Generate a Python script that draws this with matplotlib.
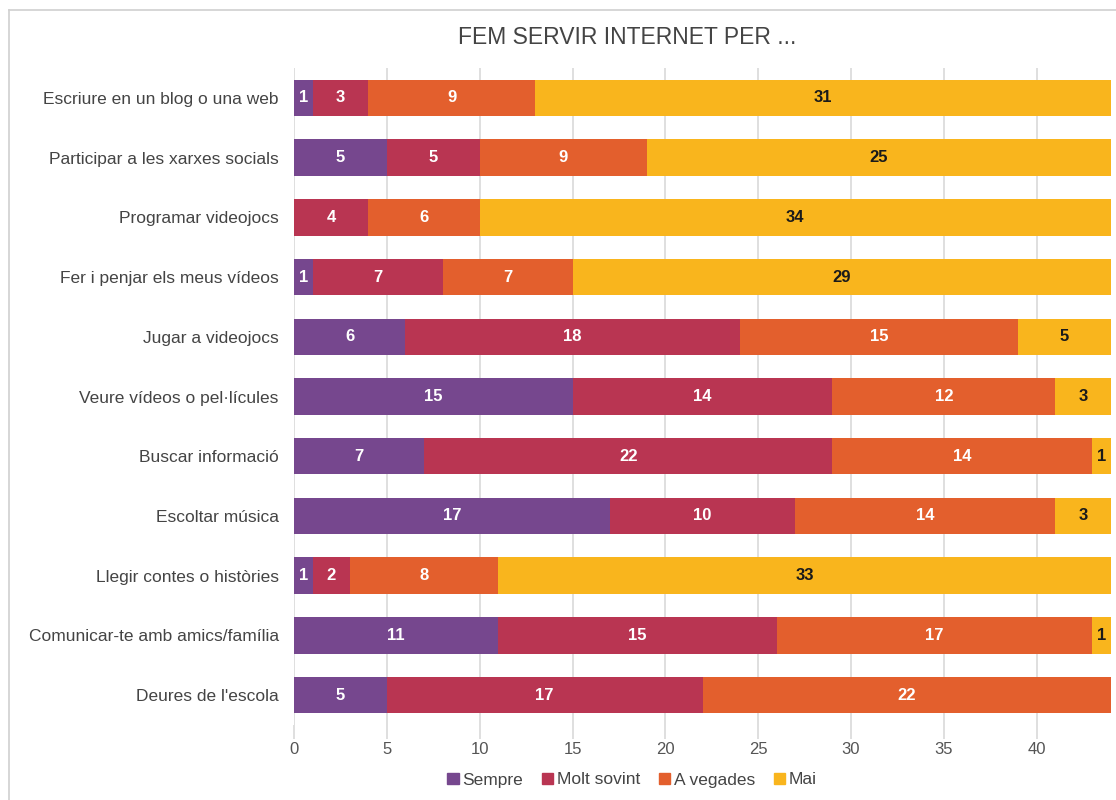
import matplotlib
matplotlib.use("Agg")
import matplotlib.pyplot as plt
from matplotlib.lines import Line2D
import numpy as np

plt.rcParams['font.family'] = ['Liberation Sans', 'DejaVu Sans']

categories = [
    "Escriure en un blog o una web",
    "Participar a les xarxes socials",
    "Programar videojocs",
    "Fer i penjar els meus vídeos",
    "Jugar a videojocs",
    "Veure vídeos o pel·lícules",
    "Buscar informació",
    "Escoltar música",
    "Llegir contes o històries",
    "Comunicar-te amb amics/família",
    "Deures de l'escola",
]
series_names = ["Sempre", "Molt sovint", "A vegades", "Mai"]
sempre = [1, 5, 0, 1, 6, 15, 7, 17, 1, 11, 5]
molt_sovint = [3, 5, 4, 7, 18, 14, 22, 10, 2, 15, 17]
a_vegades = [9, 9, 6, 7, 15, 12, 14, 14, 8, 17, 22]
mai = [31, 25, 34, 29, 5, 3, 1, 3, 33, 1, 0]
xticks = [0, 5, 10, 15, 20, 25, 30, 35, 40]

colors = ["#76478E", "#B93552", "#E35F2D", "#F9B51D"]
label_colors = ["white", "white", "white", "#1a1a1a"]

fig = plt.figure(figsize=(11.16, 8), dpi=100)
ax = fig.add_axes([294/1116, 1-725/800, (1111-294)/1116, (725-68)/800])

y = np.arange(len(categories))
left = np.zeros(len(categories))
for name, vals, c, lc in zip(series_names, [sempre, molt_sovint, a_vegades, mai], colors, label_colors):
    vals = np.array(vals, dtype=float)
    ax.barh(y, vals, left=left, height=0.61, color=c, label=name, zorder=3)
    for yi, l, v in zip(y, left, vals):
        if v > 0:
            ax.text(l + v/2, yi, f"{int(v)}", ha="center", va="center",
                    color=lc, fontsize=12, fontweight="bold", zorder=4)
    left += vals

ax.set_xlim(0, 44)
ax.set_ylim(len(categories) - 0.5, -0.5)
ax.set_yticks(y)
ax.set_yticklabels(categories, fontsize=12.5, color="#444444")
ax.set_xticks(xticks)
ax.set_xticklabels([str(t) for t in xticks], fontsize=12, color="#555555")
ax.tick_params(axis="y", length=0, pad=11)
ax.tick_params(axis="x", length=10, color="#d9d9d9", width=1.2, pad=2)
ax.grid(axis="x", color="#d9d9d9", linewidth=1.2, zorder=0)
for s in ax.spines.values():
    s.set_visible(False)

fig.text(627/1116, 1-38/800, "FEM SERVIR INTERNET PER ...", ha="center", va="center",
         fontsize=16.5, color="#444444")

handles = [plt.Rectangle((0, 0), 1, 1, color=c) for c in colors]
fig.legend(handles, series_names, loc="center", bbox_to_anchor=(632/1116, 1-780/800),
           ncol=4, frameon=False, fontsize=12.5, handlelength=0.65, handleheight=0.65,
           handletextpad=0.2, columnspacing=1.1, labelcolor="#444444")

# outer border
fig.add_artist(Line2D([8.5/1116, 8.5/1116], [0, 1-10/800], transform=fig.transFigure, color="#d0d0d0", lw=1.2))
fig.add_artist(Line2D([8.5/1116, 1], [1-10/800, 1-10/800], transform=fig.transFigure, color="#d0d0d0", lw=1.2))

fig.savefig("out.png", dpi=100, facecolor="white")
